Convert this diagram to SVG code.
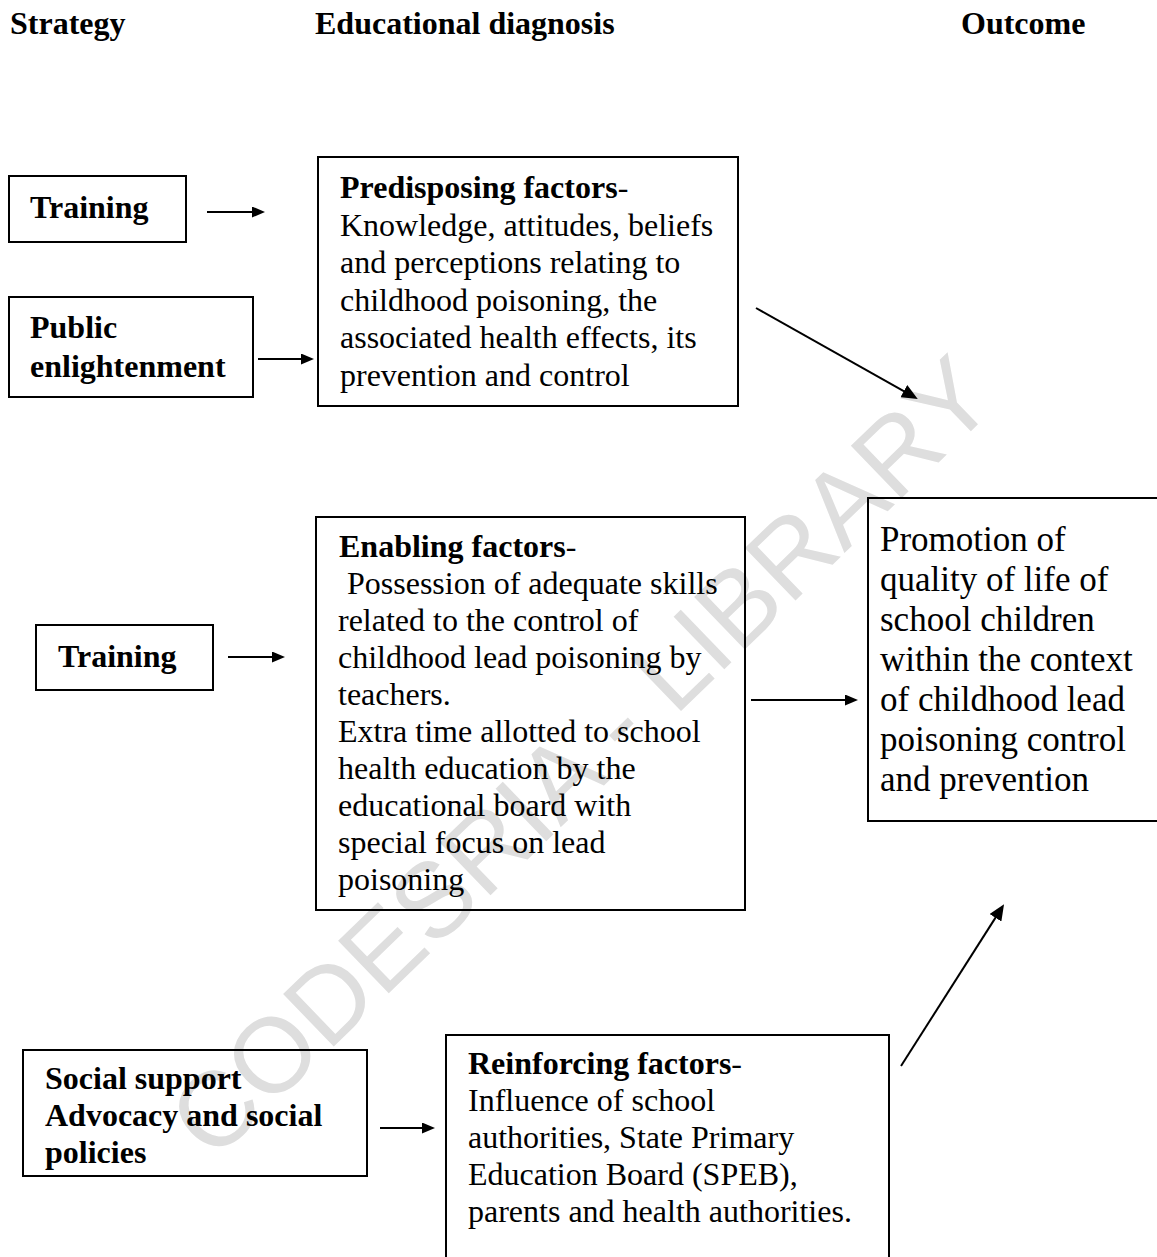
<svg xmlns="http://www.w3.org/2000/svg" width="1157" height="1257" viewBox="0 0 1157 1257">
  <style>
    .t { font-family: "Liberation Serif", "Times New Roman", serif; font-size: 32px; fill: #000; }
    .b { font-weight: bold; }
    .n { font-weight: normal; }
    .big { font-size: 35px; }
    .box { fill: none; stroke: #000; stroke-width: 2; }
    .wm { font-family: "Liberation Sans", Arial, sans-serif; font-size: 106px; fill: #dedede; }
    .link { fill: none; stroke: #000; stroke-width: 2; }
  </style>
  <defs>
    <marker id="head" markerUnits="userSpaceOnUse" markerWidth="13" markerHeight="11" refX="2" refY="5.5" orient="auto">
      <path d="M0,0 L13,5.5 L0,11 z" fill="#000"/>
    </marker>
    <marker id="headBig" markerUnits="userSpaceOnUse" markerWidth="16" markerHeight="14" refX="4" refY="7" orient="auto">
      <path d="M0,0 L16,7 L0,14 z" fill="#000"/>
    </marker>
  </defs>

  <rect width="1157" height="1257" fill="#fff"/>

  <!-- watermark -->
  <text class="wm" transform="translate(213,1163) rotate(-44)">CODESRIA - LIBRARY</text>

  <!-- column headings -->
  <g id="headings">
    <text class="t b" x="10" y="34">Strategy</text>
    <text class="t b" x="315" y="34">Educational diagnosis</text>
    <text class="t b" x="961" y="34">Outcome</text>
  </g>

  <g id="training-1">
    <rect class="box" x="9" y="176" width="177" height="66"/>
    <text class="t b" x="30" y="218">Training</text>
  </g>

  <g id="public-enlightenment">
    <rect class="box" x="9" y="297" width="244" height="100"/>
    <text class="t b" x="30" y="338">Public</text>
    <text class="t b" x="30" y="377">enlightenment</text>
  </g>

  <g id="predisposing">
    <rect class="box" x="318" y="157" width="420" height="249"/>
    <text class="t b" x="340" y="198">Predisposing factors<tspan class="n">-</tspan></text>
    <text class="t" x="340" y="235.5">Knowledge, attitudes, beliefs</text>
    <text class="t" x="340" y="273">and perceptions relating to</text>
    <text class="t" x="340" y="310.5">childhood poisoning, the</text>
    <text class="t" x="340" y="348">associated health effects, its</text>
    <text class="t" x="340" y="385.5">prevention and control</text>
  </g>

  <g id="training-2">
    <rect class="box" x="36" y="625" width="177" height="65"/>
    <text class="t b" x="58" y="667">Training</text>
  </g>

  <g id="enabling">
    <rect class="box" x="316" y="517" width="429" height="393"/>
    <text class="t b" x="339" y="557">Enabling factors<tspan class="n">-</tspan></text>
    <text class="t" x="339" y="594" xml:space="preserve"> Possession of adequate skills</text>
    <text class="t" x="338" y="631">related to the control of</text>
    <text class="t" x="338" y="668">childhood lead poisoning by</text>
    <text class="t" x="338" y="705">teachers.</text>
    <text class="t" x="338" y="742">Extra time allotted to school</text>
    <text class="t" x="338" y="779">health education by the</text>
    <text class="t" x="338" y="816">educational board with</text>
    <text class="t" x="338" y="853">special focus on lead</text>
    <text class="t" x="338" y="890">poisoning</text>
  </g>

  <g id="outcome">
    <path class="box" d="M1160,498 H868 V821 H1160"/>
    <text class="t big" x="880" y="551">Promotion of</text>
    <text class="t big" x="880" y="591">quality of life of</text>
    <text class="t big" x="880" y="631">school children</text>
    <text class="t big" x="880" y="671">within the context</text>
    <text class="t big" x="880" y="711">of childhood lead</text>
    <text class="t big" x="880" y="751">poisoning control</text>
    <text class="t big" x="880" y="791">and prevention</text>
  </g>

  <g id="social-support">
    <rect class="box" x="23" y="1050" width="344" height="126"/>
    <text class="t b" x="45" y="1089">Social support</text>
    <text class="t b" x="45" y="1126">Advocacy and social</text>
    <text class="t b" x="45" y="1163">policies</text>
  </g>

  <g id="reinforcing">
    <path class="box" d="M446,1260 V1035 H889 V1260"/>
    <text class="t b" x="468" y="1074">Reinforcing factors<tspan class="n">-</tspan></text>
    <text class="t" x="468" y="1111">Influence of school</text>
    <text class="t" x="468" y="1148">authorities, State Primary</text>
    <text class="t" x="468" y="1185">Education Board (SPEB),</text>
    <text class="t" x="468" y="1222">parents and health authorities.</text>
  </g>

  <g id="connectors">
    <line class="link" x1="207" y1="212" x2="254" y2="212" marker-end="url(#head)"/>
    <line class="link" x1="258" y1="359" x2="303" y2="359" marker-end="url(#head)"/>
    <line class="link" x1="756" y1="308" x2="907.3" y2="393.1" marker-end="url(#headBig)"/>
    <line class="link" x1="228" y1="657" x2="274" y2="657" marker-end="url(#head)"/>
    <line class="link" x1="751" y1="700" x2="847" y2="700" marker-end="url(#head)"/>
    <line class="link" x1="380" y1="1128" x2="424" y2="1128" marker-end="url(#head)"/>
    <line class="link" x1="901" y1="1066" x2="997.6" y2="914.4" marker-end="url(#headBig)"/>
  </g>
</svg>
